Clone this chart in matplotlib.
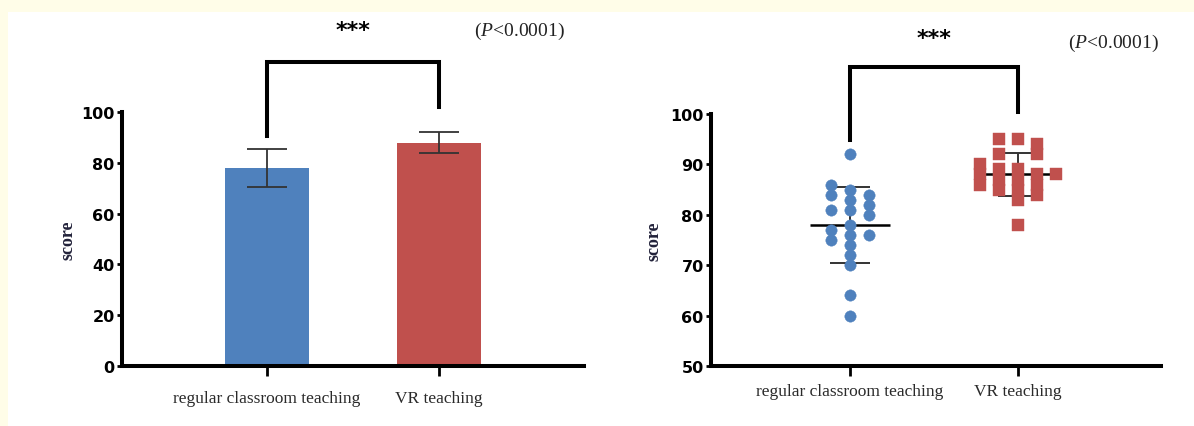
import matplotlib.pyplot as plt
import numpy as np
from matplotlib.patches import Rectangle

plt.rcParams["mathtext.fontset"] = "custom"
plt.rcParams["mathtext.rm"] = "Liberation Serif"
plt.rcParams["mathtext.it"] = "Liberation Serif:italic"

categories = ["regular classroom teaching", "VR teaching"]

# scores, grouped by the horizontal column each point sits in
blue_cols = {-1: [86, 84, 81, 77, 75],
             0: [92, 85, 83, 81, 78, 76, 74, 72, 70, 64, 60],
             1: [84, 82, 80, 76]}
red_cols = {-2: [90, 88, 86],
            -1: [95, 92, 89, 87, 85],
            0: [95, 89, 87, 85, 83, 78],
            1: [94, 92, 88, 86, 84],
            2: [88]}

p_text = "($\\it{P}$<0.0001)"

BLUE = "#4F81BD"
RED = "#C0504D"
CREAM = "#FFFDE8"
W, H = 1194, 427


def flat(cols):
    return np.array([v for vals in cols.values() for v in vals], dtype=float)


groups = [flat(blue_cols), flat(red_cols)]
means = [g.mean() for g in groups]
sds = [g.std(ddof=1) for g in groups]


def style_axes(ax, xpad):
    for s in ("top", "right"):
        ax.spines[s].set_visible(False)
    for s in ("left", "bottom"):
        ax.spines[s].set_linewidth(2.9)
        ax.spines[s].set_capstyle("projecting")
    ax.set_facecolor("none")
    ax.tick_params(axis="y", length=3.8, width=2.0, pad=1.5)
    ax.tick_params(axis="x", length=7.5, width=2.0, pad=xpad, labelcolor="#2a2a2a")
    for lab in ax.get_yticklabels():
        lab.set_fontfamily("DejaVu Sans")
        lab.set_fontweight("heavy")
        lab.set_fontsize(11.5)
    for lab in ax.get_xticklabels():
        lab.set_fontfamily("Liberation Serif")
        lab.set_fontsize(12.5)
    ax.set_ylabel("score", family="Liberation Serif", weight="bold",
                  fontsize=13, color="#22223a")


def bracket(ax, ytop, yl, yr):
    ax.plot([0, 0, 1, 1], [yl, ytop, ytop, yr], color="black", lw=2.9,
            solid_joinstyle="miter", clip_on=False)


fig = plt.figure(figsize=(W / 100, H / 100), dpi=100)
fig.patch.set_facecolor(CREAM)
fig.add_artist(Rectangle((8 / W, 0), 1, (H - 13) / H, transform=fig.transFigure,
                         facecolor="white", edgecolor="none", zorder=-10))

# ---- left: bar chart with SD error bars
ax1 = fig.add_axes([122 / W, (H - 366.7) / H, 462 / W, 253.4 / H])
x = np.arange(len(categories))
ax1.bar(x, means, width=0.49, color=[BLUE, RED], zorder=2)
ax1.errorbar(x, means, yerr=sds, fmt="none", ecolor="#333333", elinewidth=1.3,
             capsize=14.5, capthick=1.3, zorder=3)
ax1.set_xlim(-0.843, 1.843)
ax1.set_ylim(0, 100)
ax1.set_yticks(np.arange(0, 101, 20))
ax1.set_xticks(x, categories)
style_axes(ax1, xpad=10)
ax1.yaxis.set_label_coords(-0.098, 0.5)
bracket(ax1, 120, 90.5, 102)
ax1.text(0.5, 132.5, "***", ha="center", va="center", fontsize=16,
         weight="heavy", family="DejaVu Sans")
ax1.text(1.47, 132.5, p_text, ha="center", va="center", fontsize=14,
         family="Liberation Serif", color="#222222")

# ---- right: column scatter with mean and SD
ax2 = fig.add_axes([711 / W, (H - 367) / H, 450 / W, 252 / H])
step = 0.112
for i, (cols, color, marker, ms) in enumerate(
        [(blue_cols, BLUE, "o", 8.2), (red_cols, RED, "s", 8.0)]):
    ax2.hlines(means[i], i - 0.24, i + 0.24, color="black", lw=1.8, zorder=2)
    ax2.hlines([means[i] - sds[i], means[i] + sds[i]], i - 0.12, i + 0.12,
               color="#333333", lw=1.4, zorder=2)
    ax2.vlines(i, means[i] - sds[i], means[i] + sds[i], color="#333333",
               lw=1.4, zorder=2)
    for col, vals in cols.items():
        ax2.plot(np.full(len(vals), i + col * step), vals, linestyle="none",
                 marker=marker, ms=ms, color=color, mec=color, mew=0.3, zorder=3)
ax2.set_xlim(-0.827, 1.851)
ax2.set_ylim(50, 100)
ax2.set_yticks(np.arange(50, 101, 10))
ax2.set_xticks(x, categories)
style_axes(ax2, xpad=4.5)
ax2.yaxis.set_label_coords(-0.108, 0.5)
bracket(ax2, 109.3, 94.9, 100.3)
ax2.text(0.5, 115, "***", ha="center", va="center", fontsize=16,
         weight="heavy", family="DejaVu Sans")
ax2.text(1.57, 114.1, p_text, ha="center", va="center", fontsize=14,
         family="Liberation Serif", color="#222222")

fig.savefig("out.png", dpi=100, facecolor=fig.get_facecolor())
